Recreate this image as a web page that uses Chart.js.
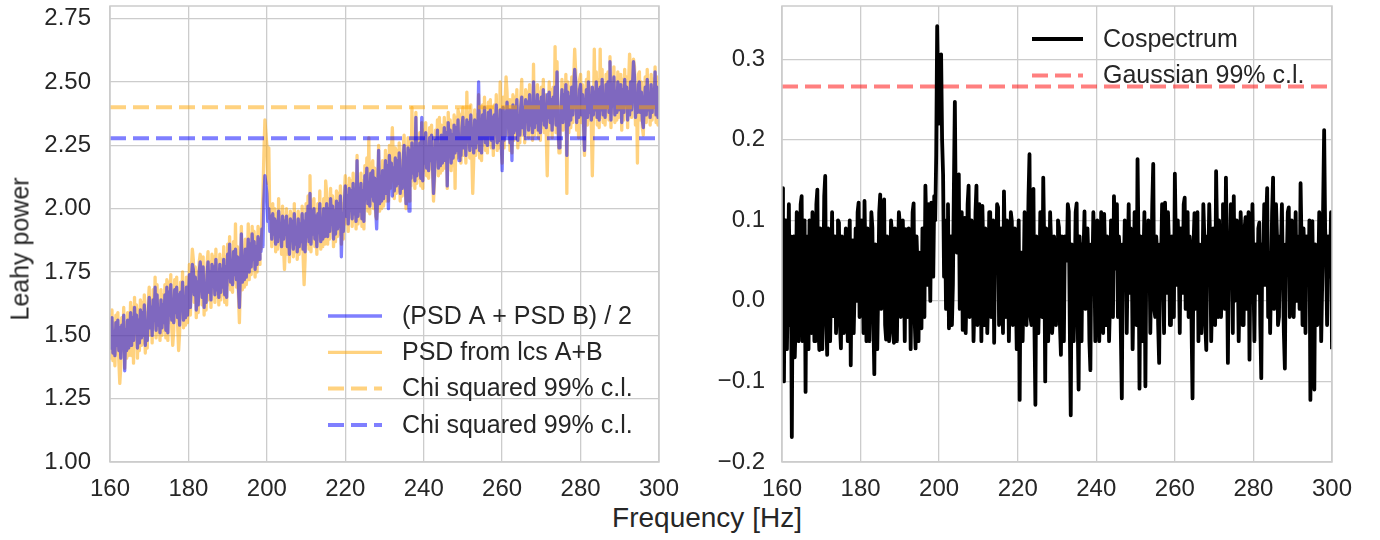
<!DOCTYPE html>
<html>
<head>
<meta charset="utf-8">
<script src="https://cdn.jsdelivr.net/npm/chart.js@4.4.1/dist/chart.umd.min.js"></script>
<style>
  body { margin: 0; background: #fff; width: 1380px; height: 540px; overflow: hidden; position: relative; font-family: "Liberation Sans", Arial, sans-serif; }
  canvas { position: absolute; top: 0; }
  #left { left: 0; }
  #right { left: 680px; }
  #xlabel { position: absolute; left: 0; width: 1414px; top: 502px; text-align: center; font-size: 28px; color: #262626; }
  #ylabel { position: absolute; left: 20px; top: 249px; width: 0; height: 0; }
  #ylabel span { position: absolute; white-space: nowrap; font-size: 25px; color: #262626; transform: translate(-50%, -50%) rotate(-90deg); }
</style>
</head>
<body>
<canvas id="left" width="680" height="500"></canvas>
<canvas id="right" width="700" height="500"></canvas>
<div id="xlabel">Frequency [Hz]</div>
<div id="ylabel"><span>Leahy power</span></div>
<script>
// frequency grid: 160 .. 300 Hz, 0.25 Hz bins
const freqStart = 160;
const freqStep = 0.25;

const xTicks = [160, 180, 200, 220, 240, 260, 280, 300];
const leftYTicks = [1.00, 1.25, 1.50, 1.75, 2.00, 2.25, 2.50, 2.75];
const rightYTicks = [-0.2, -0.1, 0.0, 0.1, 0.2, 0.3];

// (PSD A + PSD B) / 2, one row = 5 Hz
const psdAvg = [
  1.54, 1.45, 1.57, 1.43, 1.51, 1.42, 1.55, 1.46, 1.56, 1.44, 1.53, 1.41, 1.54, 1.47, 1.58, 1.36, 1.52, 1.44, 1.56, 1.45,
  1.50, 1.59, 1.46, 1.57, 1.48, 1.61, 1.51, 1.58, 1.45, 1.56, 1.47, 1.60, 1.49, 1.59, 1.50, 1.62, 1.46, 1.55, 1.48, 1.59,
  1.65, 1.53, 1.61, 1.50, 1.64, 1.56, 1.69, 1.52, 1.66, 1.54, 1.60, 1.51, 1.64, 1.53, 1.62, 1.55, 1.66, 1.52, 1.69, 1.51,
  1.67, 1.58, 1.70, 1.56, 1.64, 1.55, 1.68, 1.59, 1.69, 1.57, 1.66, 1.54, 1.67, 1.60, 1.71, 1.56, 1.65, 1.57, 1.69, 1.58,
  1.65, 1.74, 1.61, 1.72, 1.78, 1.76, 1.66, 1.73, 1.60, 1.71, 1.62, 1.75, 1.79, 1.74, 1.65, 1.77, 1.61, 1.70, 1.63, 1.74,
  1.79, 1.67, 1.75, 1.64, 1.78, 1.70, 1.77, 1.66, 1.80, 1.68, 1.74, 1.65, 1.78, 1.67, 1.76, 1.69, 1.80, 1.66, 1.77, 1.65,
  1.82, 1.73, 1.86, 1.71, 1.79, 1.70, 1.83, 1.74, 1.84, 1.72, 1.81, 1.69, 1.61, 1.75, 1.90, 1.71, 1.80, 1.72, 1.84, 1.73,
  1.79, 1.88, 1.75, 1.86, 1.77, 1.90, 1.80, 1.87, 1.76, 1.85, 1.78, 1.89, 1.80, 1.88, 1.83, 1.92, 1.85, 2.04, 2.13, 2.10,
  2.06, 1.95, 2.00, 1.91, 1.97, 1.88, 1.98, 1.90, 1.96, 1.86, 1.95, 1.87, 1.99, 1.89, 1.94, 1.85, 1.97, 1.88, 1.95, 1.90,
  1.97, 1.85, 1.93, 1.82, 1.96, 1.88, 1.95, 1.84, 1.98, 1.86, 1.92, 1.83, 1.96, 1.85, 1.94, 1.87, 1.98, 1.84, 1.95, 1.83,
  1.98, 1.89, 2.01, 1.87, 2.06, 1.86, 1.99, 1.90, 2.00, 1.88, 1.97, 1.85, 1.98, 1.91, 2.02, 1.87, 1.96, 1.88, 2.00, 1.89,
  1.93, 2.02, 1.89, 2.00, 1.91, 2.04, 1.94, 2.01, 1.88, 1.99, 1.90, 2.03, 1.92, 2.02, 1.93, 2.05, 1.81, 1.98, 1.91, 2.02,
  2.09, 1.97, 2.05, 1.94, 2.08, 2.00, 2.07, 1.96, 2.10, 1.98, 2.04, 1.95, 2.19, 1.97, 2.06, 1.99, 2.10, 1.96, 2.07, 1.95,
  2.13, 2.04, 2.16, 2.02, 2.10, 2.01, 2.14, 2.05, 2.15, 2.03, 2.12, 2.00, 1.92, 2.06, 2.23, 2.02, 2.11, 2.03, 2.15, 2.04,
  2.10, 2.19, 2.06, 2.17, 2.00, 2.21, 2.11, 2.18, 2.05, 2.16, 2.07, 2.20, 2.09, 2.19, 2.10, 2.22, 2.06, 2.15, 2.08, 2.19,
  2.25, 2.13, 2.02, 2.10, 2.24, 1.99, 2.23, 2.12, 2.26, 2.14, 2.20, 2.11, 2.36, 2.13, 2.22, 2.15, 2.26, 2.12, 2.36, 2.11,
  2.27, 2.18, 2.30, 2.16, 2.24, 2.15, 2.28, 2.19, 2.29, 2.17, 2.06, 2.14, 2.27, 2.20, 2.31, 2.16, 2.25, 2.17, 2.29, 2.18,
  2.23, 2.32, 2.19, 2.30, 2.09, 2.34, 2.24, 2.31, 2.18, 2.29, 2.20, 2.33, 2.22, 2.32, 2.23, 2.35, 2.19, 2.28, 2.21, 2.32,
  2.36, 2.24, 2.32, 2.21, 2.35, 2.27, 2.34, 2.23, 2.37, 2.25, 2.31, 2.22, 2.35, 2.24, 2.33, 2.26, 2.50, 2.23, 2.34, 2.22,
  2.37, 2.28, 2.40, 2.26, 2.34, 2.25, 2.38, 2.29, 2.39, 2.27, 2.36, 2.24, 2.37, 2.30, 2.41, 2.26, 2.35, 2.27, 2.39, 2.28,
  2.15, 2.40, 2.27, 2.38, 2.29, 2.42, 2.32, 2.39, 2.26, 2.37, 2.19, 2.41, 2.30, 2.40, 2.31, 2.43, 2.27, 2.36, 2.29, 2.40,
  2.44, 2.32, 2.40, 2.29, 2.43, 2.35, 2.42, 2.31, 2.45, 2.33, 2.39, 2.30, 2.50, 2.32, 2.41, 2.34, 2.45, 2.31, 2.42, 2.30,
  2.44, 2.35, 2.47, 2.33, 2.41, 2.32, 2.45, 2.36, 2.46, 2.34, 2.43, 2.31, 2.44, 2.37, 2.48, 2.33, 2.54, 2.34, 2.24, 2.35,
  2.38, 2.47, 2.34, 2.45, 2.36, 2.49, 2.21, 2.46, 2.33, 2.44, 2.35, 2.48, 2.37, 2.47, 2.55, 2.50, 2.34, 2.43, 2.36, 2.47,
  2.49, 2.37, 2.45, 2.34, 2.23, 2.40, 2.47, 2.36, 2.50, 2.38, 2.44, 2.35, 2.48, 2.37, 2.46, 2.39, 2.50, 2.36, 2.47, 2.35,
  2.48, 2.39, 2.51, 2.37, 2.45, 2.36, 2.49, 2.40, 2.50, 2.38, 2.58, 2.35, 2.48, 2.41, 2.52, 2.37, 2.46, 2.38, 2.50, 2.39,
  2.40, 2.49, 2.34, 2.47, 2.38, 2.51, 2.41, 2.48, 2.35, 2.46, 2.37, 2.50, 2.39, 2.49, 2.58, 2.52, 2.36, 2.45, 2.38, 2.49,
  2.50, 2.38, 2.46, 2.35, 2.32, 2.41, 2.48, 2.37, 2.51, 2.39, 2.45, 2.36, 2.49, 2.38, 2.47, 2.40, 2.54, 2.37, 2.48, 2.36,
  2.42
];

// PSD from lcs A+B
const psdLcs = [
  1.58, 1.41, 1.60, 1.40, 1.55, 1.38, 1.58, 1.43, 1.59, 1.40, 1.31, 1.38, 1.57, 1.44, 1.61, 1.37, 1.55, 1.41, 1.59, 1.42,
  1.47, 1.63, 1.42, 1.61, 1.39, 1.65, 1.48, 1.62, 1.41, 1.60, 1.44, 1.64, 1.46, 1.63, 1.47, 1.66, 1.43, 1.59, 1.45, 1.63,
  1.69, 1.50, 1.64, 1.47, 1.68, 1.53, 1.73, 1.49, 1.70, 1.51, 1.63, 1.48, 1.68, 1.50, 1.66, 1.52, 1.70, 1.49, 1.72, 1.48,
  1.71, 1.55, 1.74, 1.53, 1.46, 1.52, 1.72, 1.56, 1.73, 1.54, 1.44, 1.51, 1.71, 1.57, 1.75, 1.53, 1.69, 1.54, 1.73, 1.55,
  1.62, 1.78, 1.58, 1.76, 1.84, 1.80, 1.63, 1.77, 1.57, 1.75, 1.59, 1.79, 1.82, 1.78, 1.62, 1.81, 1.58, 1.74, 1.60, 1.78,
  1.83, 1.64, 1.79, 1.61, 1.82, 1.67, 1.81, 1.63, 1.84, 1.65, 1.78, 1.62, 1.82, 1.64, 1.80, 1.66, 1.85, 1.63, 1.81, 1.62,
  1.86, 1.70, 1.89, 1.68, 1.83, 1.67, 1.87, 1.71, 1.94, 1.69, 1.85, 1.66, 1.55, 1.72, 1.93, 1.68, 1.84, 1.69, 1.88, 1.70,
  1.76, 1.94, 1.72, 1.90, 1.74, 1.93, 1.77, 1.91, 1.73, 1.89, 1.75, 1.93, 1.78, 1.92, 1.84, 1.98, 2.05, 2.22, 2.35, 2.30,
  2.25, 2.10, 2.24, 1.96, 2.01, 1.85, 2.02, 1.87, 2.00, 1.83, 1.98, 1.84, 2.04, 1.86, 1.97, 1.82, 2.01, 1.85, 1.76, 1.87,
  2.00, 1.82, 1.97, 1.79, 1.99, 1.85, 1.98, 1.81, 2.02, 1.83, 1.95, 1.80, 1.99, 1.82, 1.97, 1.84, 2.01, 1.81, 1.70, 1.80,
  2.02, 1.86, 2.05, 1.84, 2.13, 1.83, 2.03, 1.87, 2.04, 1.85, 2.00, 1.82, 2.02, 1.88, 2.07, 1.84, 2.00, 1.85, 2.04, 1.86,
  2.11, 2.06, 1.86, 2.04, 1.88, 2.08, 1.91, 2.05, 1.85, 2.03, 1.87, 2.07, 1.89, 2.06, 1.90, 2.09, 1.86, 2.02, 1.88, 2.06,
  2.13, 1.94, 2.09, 1.91, 2.12, 1.97, 2.11, 1.93, 2.14, 1.95, 2.08, 1.92, 2.21, 1.94, 2.10, 1.96, 2.14, 1.93, 2.11, 1.92,
  2.17, 2.01, 2.20, 1.99, 2.28, 1.98, 2.18, 2.02, 2.19, 2.00, 2.16, 1.97, 1.96, 2.03, 2.25, 1.99, 2.15, 2.00, 2.19, 2.01,
  2.07, 2.23, 2.03, 2.21, 2.03, 2.25, 2.08, 2.22, 2.32, 2.20, 2.04, 2.24, 2.06, 2.23, 2.07, 2.26, 2.03, 2.19, 2.05, 2.23,
  2.29, 2.10, 2.00, 2.07, 2.28, 2.03, 2.27, 2.09, 2.40, 2.11, 2.24, 2.08, 2.38, 2.10, 2.26, 2.12, 2.30, 2.09, 2.34, 2.08,
  2.31, 2.15, 2.34, 2.13, 2.28, 2.12, 2.32, 2.16, 2.33, 2.14, 2.03, 2.11, 2.31, 2.17, 2.35, 2.13, 2.36, 2.14, 2.33, 2.15,
  2.20, 2.36, 2.16, 2.34, 2.08, 2.38, 2.21, 2.35, 2.15, 2.33, 2.17, 2.37, 2.08, 2.36, 2.20, 2.39, 2.37, 2.25, 2.18, 2.36,
  2.40, 2.21, 2.36, 2.18, 2.46, 2.24, 2.38, 2.20, 2.41, 2.22, 2.06, 2.19, 2.39, 2.21, 2.37, 2.23, 2.45, 2.20, 2.38, 2.19,
  2.41, 2.25, 2.44, 2.23, 2.38, 2.22, 2.42, 2.26, 2.43, 2.24, 2.40, 2.21, 2.41, 2.27, 2.45, 2.23, 2.39, 2.24, 2.50, 2.25,
  2.18, 2.44, 2.24, 2.42, 2.52, 2.46, 2.29, 2.43, 2.23, 2.41, 2.22, 2.45, 2.27, 2.44, 2.28, 2.47, 2.24, 2.40, 2.26, 2.44,
  2.51, 2.29, 2.44, 2.26, 2.47, 2.32, 2.46, 2.28, 2.49, 2.30, 2.43, 2.27, 2.57, 2.29, 2.45, 2.31, 2.49, 2.28, 2.46, 2.27,
  2.48, 2.32, 2.51, 2.30, 2.45, 2.29, 2.13, 2.33, 2.50, 2.31, 2.47, 2.28, 2.48, 2.34, 2.64, 2.30, 2.58, 2.31, 2.22, 2.32,
  2.35, 2.51, 2.31, 2.49, 2.33, 2.53, 2.06, 2.50, 2.30, 2.48, 2.32, 2.52, 2.34, 2.51, 2.63, 2.54, 2.31, 2.47, 2.28, 2.51,
  2.53, 2.34, 2.49, 2.31, 2.21, 2.44, 2.51, 2.33, 2.54, 2.35, 2.48, 2.32, 2.13, 2.34, 2.63, 2.36, 2.54, 2.33, 2.51, 2.32,
  2.63, 2.36, 2.55, 2.34, 2.49, 2.33, 2.53, 2.37, 2.54, 2.35, 2.60, 2.32, 2.52, 2.38, 2.56, 2.34, 2.50, 2.35, 2.54, 2.36,
  2.37, 2.53, 2.31, 2.51, 2.35, 2.55, 2.38, 2.52, 2.32, 2.50, 2.61, 2.54, 2.36, 2.53, 2.59, 2.56, 2.33, 2.49, 2.18, 2.53,
  2.54, 2.35, 2.50, 2.32, 2.29, 2.45, 2.52, 2.34, 2.55, 2.36, 2.49, 2.33, 2.53, 2.35, 2.51, 2.37, 2.56, 2.34, 2.52, 2.33,
  2.45
];

// cospectrum A x B
const cospec = [
  0.14, -0.04, -0.10, 0.10, 0.10, -0.06, 0.02, 0.12, -0.03, 0.08, -0.169, 0.07, 0.08, -0.07, -0.02, 0.11, 0.10, -0.05, 0.03, 0.12,
  0.13, -0.05, -0.02, 0.10, -0.113, 0.08, 0.04, -0.06, 0.10, -0.02, -0.04, 0.11, 0.06, -0.05, -0.05, 0.12, 0.138, -0.03, -0.061, 0.09,
  0.05, -0.06, 0.02, 0.13, 0.155, -0.02, -0.067, 0.09, 0.07, -0.05, 0.03, 0.11, -0.019, 0.08, 0.08, -0.04, 0.01, 0.10, 0.097, -0.03,
  -0.059, 0.08, 0.04, -0.04, 0.052, 0.09, 0.01, -0.05, 0.06, 0.10, -0.08, 0.06, 0.075, -0.04, 0.02, 0.09, 0.00, 0.11, 0.122, -0.02,
  -0.01, 0.10, 0.06, -0.04, 0.124, 0.05, -0.05, 0.09, 0.03, -0.05, 0.04, 0.11, 0.091, -0.02, -0.091, 0.07, 0.05, -0.06, 0.02, 0.11,
  0.132, -0.01, 0.00, 0.10, 0.126, -0.03, -0.048, 0.08, 0.06, -0.05, 0.02, 0.10, 0.084, -0.04, -0.052, 0.09, 0.03, -0.05, 0.05, 0.11,
  0.095, -0.02, 0.01, 0.10, 0.04, -0.05, 0.089, 0.06, -0.02, 0.09, 0.06, -0.06, 0.03, 0.11, 0.121, -0.02, -0.059, 0.08, 0.04, -0.05,
  0.06, -0.03, -0.034, 0.09, 0.08, -0.02, 0.143, 0.09, 0.02, 0.12, 0.07, 0.00, 0.122, 0.08, 0.03, 0.13, 0.10, 0.18, 0.341, 0.26,
  0.22, 0.29, 0.306, 0.20, 0.157, 0.03, 0.10, -0.01, 0.05, 0.12, -0.034, 0.07, 0.08, -0.03, 0.02, 0.14, 0.247, 0.10, 0.06, 0.15,
  0.157, -0.01, 0.01, 0.11, -0.036, 0.07, 0.103, -0.04, 0.02, 0.12, 0.143, -0.02, -0.01, 0.10, 0.05, -0.05, 0.00, 0.11, 0.143, -0.03,
  0.02, 0.12, 0.07, -0.05, 0.118, 0.06, -0.03, 0.09, 0.06, -0.04, 0.01, 0.11, 0.11, -0.02, 0.03, 0.10, -0.052, 0.07, 0.05, 0.12,
  0.116, -0.03, 0.00, 0.09, 0.04, -0.04, 0.136, 0.06, -0.02, 0.10, 0.07, -0.05, 0.03, 0.11, 0.099, -0.03, -0.01, 0.09, 0.02, -0.06,
  0.04, 0.10, -0.123, 0.06, 0.06, -0.05, 0.02, 0.11, 0.09, -0.03, 0.05, 0.13, 0.182, -0.02, -0.03, 0.09, 0.139, -0.03, -0.129, 0.08,
  0.06, -0.04, 0.02, 0.11, 0.09, -0.02, 0.153, 0.07, -0.10, 0.09, 0.05, -0.05, 0.01, 0.11, 0.07, -0.04, -0.02, 0.08, 0.06, -0.03,
  0.03, 0.10, 0.091, -0.03, -0.067, 0.08, 0.04, -0.05, 0.08, 0.05, 0.05, 0.12, 0.111, -0.03, -0.142, 0.07, 0.06, -0.05, 0.02, 0.11,
  0.121, -0.02, -0.11, 0.08, 0.04, -0.05, 0.07, 0.06, 0.111, -0.01, 0.00, 0.09, 0.05, -0.05, -0.086, 0.07, 0.03, 0.11, 0.06, -0.05,
  0.02, 0.10, 0.07, -0.05, 0.01, 0.11, 0.04, -0.04, 0.108, 0.06, -0.03, 0.08, 0.05, -0.05, 0.00, 0.10, 0.08, -0.02, 0.13, 0.07,
  0.04, 0.12, -0.02, 0.08, 0.06, -0.04, -0.121, 0.07, 0.03, 0.10, 0.08, -0.04, 0.05, 0.12, 0.01, 0.09, 0.07, -0.06, 0.02, 0.11,
  0.06, -0.03, 0.176, 0.07, -0.109, 0.08, 0.03, -0.05, 0.05, 0.11, -0.106, 0.06, 0.02, 0.10, 0.08, -0.04, 0.04, 0.12, 0.17, -0.01,
  -0.02, 0.08, 0.06, -0.03, -0.077, 0.07, 0.05, 0.12, 0.03, -0.04, 0.122, 0.06, 0.01, 0.11, 0.07, -0.03, -0.03, 0.08, 0.06, -0.02,
  0.158, 0.07, 0.02, 0.10, 0.05, -0.04, 0.09, 0.06, 0.01, 0.12, 0.128, -0.01, 0.04, 0.11, -0.02, 0.08, 0.06, -0.03, -0.121, 0.07,
  0.109, -0.01, 0.03, 0.11, -0.05, 0.07, 0.06, -0.04, 0.02, 0.12, 0.08, -0.03, -0.061, 0.08, 0.04, 0.12, 0.07, -0.05, 0.01, 0.09,
  0.05, -0.03, 0.161, 0.08, -0.02, 0.10, 0.06, -0.02, 0.03, 0.12, 0.08, -0.01, 0.153, 0.06, -0.077, 0.08, 0.04, 0.12, 0.06, -0.04,
  0.13, 0.00, 0.01, 0.10, 0.05, -0.05, 0.02, 0.11, 0.07, -0.03, -0.03, 0.09, 0.104, -0.01, 0.04, 0.11, -0.073, 0.06, 0.05, 0.12,
  0.03, -0.05, 0.07, 0.05, 0.01, 0.09, 0.097, -0.03, -0.096, 0.07, 0.05, 0.12, 0.02, 0.10, 0.14, -0.02, 0.06, -0.04, 0.03, 0.11,
  0.153, -0.01, 0.04, 0.12, 0.08, -0.03, -0.02, 0.08, 0.06, 0.12, 0.03, -0.04, -0.084, 0.07, 0.05, 0.11, 0.116, -0.02, 0.02, 0.10,
  0.06, -0.02, 0.04, 0.11, 0.00, 0.08, 0.07, -0.01, 0.146, 0.07, -0.03, 0.09, 0.05, -0.04, 0.08, 0.06, 0.02, 0.10, -0.123, 0.06,
  0.099, -0.01, -0.11, 0.07, 0.05, -0.03, 0.03, 0.11, 0.07, -0.05, 0.02, 0.12, 0.212, 0.09, 0.05, -0.03, 0.08, 0.05, 0.03, 0.11,
  -0.06
];

// 99% confidence levels
const chiLcs = 2.40;
const chiAvg = 2.278;
const gauss99 = 0.266;

const leftNames = ["(PSD A + PSD B) / 2", "PSD from lcs A+B", "Chi squared 99% c.l.", "Chi squared 99% c.l."];
const rightNames = ["Cospectrum", "Gaussian 99% c.l."];

const textColor = "#262626";
const gridColor = "#cccccc";
const fontFamily = "'Liberation Sans', Arial, sans-serif";

function toPoints(vals) {
  return vals.map((v, i) => ({ x: freqStart + i * freqStep, y: v }));
}

function hline(y) {
  return [{ x: xTicks[0], y: y }, { x: xTicks[xTicks.length - 1], y: y }];
}

// box round the axes, drawn above the lines like matplotlib spines
const frame = {
  id: "frame",
  afterDatasetsDraw(chart) {
    const a = chart.chartArea;
    const ctx = chart.ctx;
    ctx.save();
    ctx.strokeStyle = gridColor;
    ctx.lineWidth = 1.5;
    ctx.strokeRect(a.left, a.top, a.right - a.left, a.bottom - a.top);
    ctx.restore();
  }
};

// legend drawn inside the axes, without a box
const innerLegend = {
  id: "innerLegend",
  afterDraw(chart, args, opts) {
    const ctx = chart.ctx;
    ctx.save();
    ctx.font = "25px " + fontFamily;
    ctx.textBaseline = "middle";
    opts.rows.forEach((row, k) => {
      const ds = chart.data.datasets[row];
      const y = opts.top + k * opts.gap;
      ctx.strokeStyle = ds.borderColor;
      ctx.lineWidth = ds.borderWidth;
      ctx.setLineDash(ds.borderDash || []);
      ctx.beginPath();
      ctx.moveTo(opts.x, y);
      ctx.lineTo(opts.x + opts.len, y);
      ctx.stroke();
      ctx.setLineDash([]);
      ctx.fillStyle = textColor;
      ctx.fillText(ds.label, opts.textX, y + 1);
    });
    ctx.restore();
  }
};

function xScale() {
  return {
    type: "linear",
    min: xTicks[0],
    max: xTicks[xTicks.length - 1],
    afterBuildTicks: (s) => { s.ticks = xTicks.map(v => ({ value: v })); },
    afterFit: (s) => { s.height = 38; s.paddingLeft = 0; s.paddingRight = 0; },
    grid: { color: gridColor, lineWidth: 1.3, drawTicks: false },
    border: { display: false },
    ticks: { color: textColor, font: { size: 24, family: fontFamily }, padding: 13, maxRotation: 0 }
  };
}

function yScale(min, max, tickList, width, pad, fmt) {
  return {
    min: min,
    max: max,
    afterBuildTicks: (s) => { s.ticks = tickList.map(v => ({ value: v })); },
    afterFit: (s) => { s.width = width; s.paddingTop = 0; s.paddingBottom = 0; },
    grid: { color: gridColor, lineWidth: 1.3, drawTicks: false },
    border: { display: false },
    ticks: { color: textColor, font: { size: 24, family: fontFamily }, padding: pad, callback: fmt }
  };
}

const baseOpts = {
  responsive: false,
  animation: false,
  events: [],
  parsing: false,
  normalized: true,
  elements: { point: { radius: 0 }, line: { tension: 0, borderJoinStyle: "round", borderCapStyle: "butt" } },
  plugins: { legend: { display: false }, tooltip: { enabled: false } }
};

new Chart(document.getElementById("left"), {
  type: "line",
  data: {
    datasets: [
      { label: leftNames[0], data: toPoints(psdAvg), borderColor: "rgba(0,0,255,0.5)", borderWidth: 3.3, order: 3 },
      { label: leftNames[1], data: toPoints(psdLcs), borderColor: "rgba(255,165,0,0.5)", borderWidth: 3.3, order: 4 },
      { label: leftNames[2], data: hline(chiLcs), borderColor: "rgba(255,165,0,0.5)", borderWidth: 4, borderDash: [16, 7], order: 2 },
      { label: leftNames[3], data: hline(chiAvg), borderColor: "rgba(0,0,255,0.5)", borderWidth: 4, borderDash: [16, 7], order: 1 }
    ]
  },
  options: Object.assign({}, baseOpts, {
    layout: { padding: { top: 6, right: 21, bottom: 0, left: 0 } },
    scales: {
      x: xScale(),
      y: yScale(1.0, 2.8, leftYTicks, 110, 19, (v) => v.toFixed(2))
    },
    plugins: Object.assign({}, baseOpts.plugins, {
      innerLegend: { rows: [0, 1, 2, 3], x: 328, len: 54, textX: 402, top: 316, gap: 36.3 }
    })
  }),
  plugins: [frame, innerLegend]
});

new Chart(document.getElementById("right"), {
  type: "line",
  data: {
    datasets: [
      { label: rightNames[0], data: toPoints(cospec), borderColor: "#000000", borderWidth: 3.8, order: 1 },
      { label: rightNames[1], data: hline(gauss99), borderColor: "rgba(255,0,0,0.5)", borderWidth: 4, borderDash: [16, 7], order: 2 }
    ]
  },
  options: Object.assign({}, baseOpts, {
    layout: { padding: { top: 6, right: 48, bottom: 0, left: 0 } },
    scales: {
      x: xScale(),
      y: yScale(-0.2, 0.366, rightYTicks, 102, 17, (v) => (v < 0 ? "\u2212" : "") + Math.abs(v).toFixed(1))
    },
    plugins: Object.assign({}, baseOpts.plugins, {
      innerLegend: { rows: [0, 1], x: 352, len: 51, textX: 423, top: 39, gap: 36.5 }
    })
  }),
  plugins: [frame, innerLegend]
});
</script>
</body>
</html>
